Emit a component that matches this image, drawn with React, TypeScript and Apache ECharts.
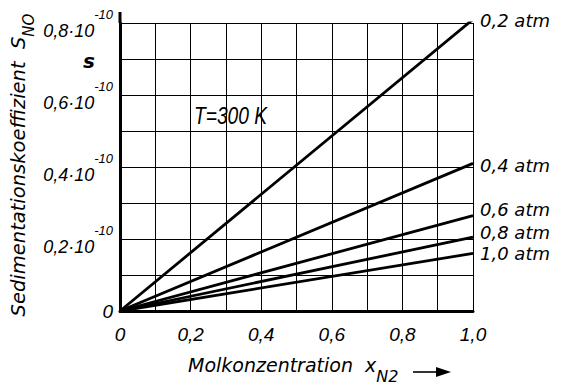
import React, { useEffect, useRef } from 'react';
import * as echarts from 'echarts';

// Pressure curves: sedimentation coefficient (×10^-10 s) vs. N2 mole fraction
const pressures = ['0,2 atm', '0,4 atm', '0,6 atm', '0,8 atm', '1,0 atm'];
const xStartEnd = [0, 1.0];
const sAtStart = [0, 0, 0, 0, 0];
const sAtEnd = [0.81, 0.41, 0.265, 0.205, 0.16];

const xTickLabels = ['0', '0,2', '0,4', '0,6', '0,8', '1,0'];
const yTickLabels = ['0', '0,2', '0,4', '0,6', '0,8'];

const labelNudge = [1, 2, -6, -5, 0];

const TXT = 'DejaVu Sans';
const NUM = 'Liberation Sans';

export default function App() {
  const ref = useRef<HTMLDivElement>(null);
  useEffect(() => {
    if (!ref.current) return;
    const chart = echarts.init(ref.current, undefined, { renderer: 'svg' });

    const series = pressures.map((name, i) => ({
      name,
      type: 'line',
      data: [
        [xStartEnd[0], sAtStart[i]],
        [xStartEnd[1], sAtEnd[i]],
      ],
      symbol: 'none',
      silent: true,
      lineStyle: { color: '#000', width: 2.8 },
      endLabel: {
        show: true,
        formatter: '{a}',
        color: '#000',
        fontFamily: TXT,
        fontStyle: 'italic',
        fontSize: 18,
        lineHeight: 18,
        distance: 7,
        offset: [0, labelNudge[i]],
      },
    }));

    chart.setOption({
      animation: false,
      backgroundColor: '#fff',
      grid: { left: 120, right: 94, top: 23, bottom: 79, containLabel: false },
      xAxis: {
        type: 'value',
        min: 0,
        max: 1,
        interval: 0.1,
        axisLine: { show: true, lineStyle: { color: '#000', width: 3 } },
        axisTick: { show: false },
        splitLine: { show: true, lineStyle: { color: '#000', width: 1 } },
        axisLabel: {
          margin: 14,
          color: '#000',
          fontFamily: NUM,
          fontStyle: 'italic',
          fontSize: 19,
          formatter: (v: number) => {
            const k = Math.round(v * 10);
            return k % 2 ? '' : xTickLabels[k / 2];
          },
        },
      },
      yAxis: {
        type: 'value',
        min: 0,
        max: 0.8,
        interval: 0.1,
        axisLine: { show: true, lineStyle: { color: '#000', width: 3 } },
        axisTick: { show: false },
        splitLine: { show: true, lineStyle: { color: '#000', width: 1 } },
        axisLabel: {
          margin: 7,
          color: '#000',
          formatter: (v: number) => {
            const k = Math.round(v * 10);
            if (k % 2) return '';
            if (k === 0) return '{z|0}';
            return `{m|${yTickLabels[k / 2]}·10}{s|-10}`;
          },
          rich: {
            z: { fontFamily: NUM, fontStyle: 'italic', fontSize: 19, color: '#000' },
            m: {
              fontFamily: NUM,
              fontStyle: 'italic',
              fontSize: 18,
              lineHeight: 18,
              padding: [16, 0, 0, 0],
              color: '#000',
            },
            s: {
              fontFamily: NUM,
              fontStyle: 'italic',
              fontSize: 13,
              lineHeight: 14,
              padding: [0, 0, 18, 0],
              color: '#000',
            },
          },
        },
      },
      series,
      graphic: [
        {
          type: 'text',
          x: 194,
          y: 116,
          scaleX: 0.8,
          silent: true,
          style: {
            text: '{a|T=300 K}',
            align: 'left',
            verticalAlign: 'middle',
            rich: {
              a: {
                fontFamily: NUM,
                fontStyle: 'italic',
                fontSize: 24,
                color: '#000',
              },
            },
          },
        },
        {
          type: 'text',
          x: 89,
          y: 61,
          silent: true,
          style: {
            text: 's',
            fill: '#000',
            fontFamily: TXT,
            fontStyle: 'italic',
            fontWeight: 'bold',
            fontSize: 20,
            verticalAlign: 'middle',
            align: 'center',
          },
        },
        {
          type: 'text',
          x: 22,
          y: 165,
          rotation: Math.PI / 2,
          silent: true,
          style: {
            text: '{t|Sedimentationskoeffizient  S}{b|NO}',
            align: 'center',
            verticalAlign: 'middle',
            rich: {
              t: {
                fontFamily: TXT,
                fontStyle: 'italic',
                fontSize: 19.5,
                lineHeight: 22,
                padding: [0, 0, 8, 0],
                color: '#000',
              },
              b: {
                fontFamily: TXT,
                fontStyle: 'italic',
                fontSize: 15,
                lineHeight: 16,
                padding: [14, 0, 0, 0],
                color: '#000',
              },
            },
          },
        },
        {
          type: 'text',
          x: 188,
          y: 370,
          silent: true,
          style: {
            text: '{t|Molkonzentration  x}{b|N2}',
            align: 'left',
            verticalAlign: 'middle',
            rich: {
              t: {
                fontFamily: TXT,
                fontStyle: 'italic',
                fontSize: 19,
                lineHeight: 20,
                padding: [0, 0, 10, 0],
                color: '#000',
              },
              b: {
                fontFamily: TXT,
                fontStyle: 'italic',
                fontSize: 16,
                lineHeight: 17,
                padding: [13, 0, 0, 0],
                color: '#000',
              },
            },
          },
        },
        {
          type: 'line',
          silent: true,
          shape: { x1: 413, y1: 372, x2: 440, y2: 372 },
          style: { stroke: '#000', lineWidth: 1.6 },
        },
        {
          type: 'polygon',
          silent: true,
          shape: { points: [[436, 367], [451, 372], [436, 377]] },
          style: { fill: '#000' },
        },
        {
          type: 'line',
          silent: true,
          shape: { x1: 120, y1: 12, x2: 120, y2: 23 },
          style: { stroke: '#000', lineWidth: 3 },
        },
      ],
    });

    return () => chart.dispose();
  }, []);

  return (
    <div
      ref={ref}
      style={{ position: 'fixed', left: 0, top: 0, width: 567, height: 390, background: '#fff' }}
    />
  );
}
